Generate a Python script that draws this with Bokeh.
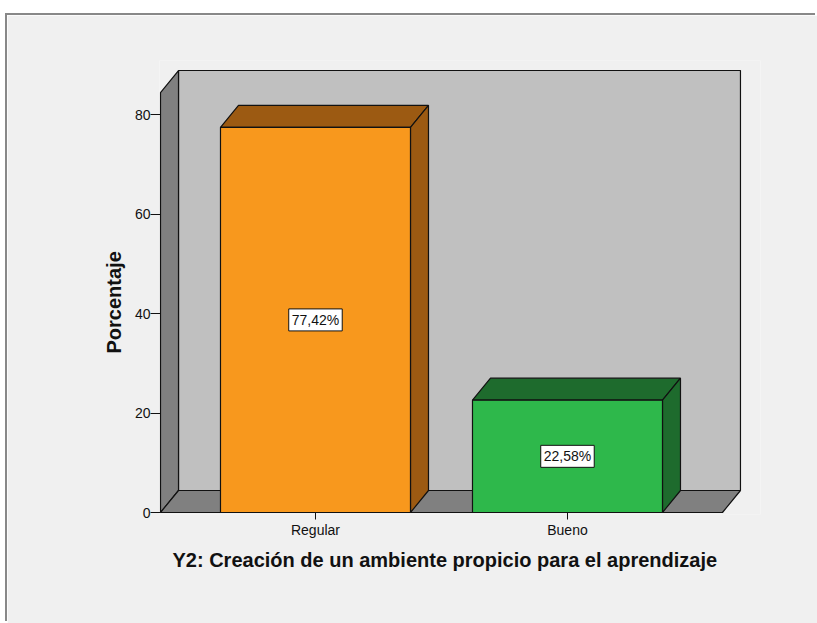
from bokeh.plotting import figure
from bokeh.models import Range1d, FixedTicker, Label, Title
from bokeh.embed import file_html
from bokeh.resources import INLINE

# ---- data ----
categories = ["Regular", "Bueno"]
percentages = [77.42, 22.58]
y_ticks = [0, 20, 40, 60, 80]
x_title = "Y2: Creación de un ambiente propicio para el aprendizaje"
y_title = "Porcentaje"

# ---- styles ----
front_colors = ["#F8981D", "#2EB84B"]
shade_colors = ["#9C5A12", "#1E6B2D"]
BG = "#F0F0F0"
WALL_BACK = "#C0C0C0"
WALL_SIDE = "#808080"
EDGE = "#111111"
FONT = "Liberation Sans"

W, H = 810, 608
FL, FR, FT, FB = 152, 753, 45, 499          # plot frame (figure px)
PX_X = 252.0                                 # px per category unit
PX_Y = 4.975                                 # px per percent
X0 = -0.119
X1 = X0 + (FR - FL) / PX_X
Y0 = -2 / PX_Y
Y1 = Y0 + (FB - FT) / PX_Y

DX = 18 / PX_X          # depth offset (x)
DY = 22 / PX_Y          # depth offset (y)
PAD = 0.115             # floor padding beyond category slots
WALL_TOP = 88.84
BAR_W = 190 / PX_X

p = figure(width=W, height=H,
           x_range=Range1d(X0, X1), y_range=Range1d(Y0, Y1),
           output_backend="svg", toolbar_location=None,
           min_border_left=FL, min_border_right=W - FR,
           min_border_top=FT, min_border_bottom=H - FB,
           background_fill_color=BG, border_fill_color=BG,
           outline_line_color=None)
p.margin = (15, 0, 0, 7)
p.styles = {"box-shadow": "-2px -2px 0px 0px #888888"}
p.grid.visible = False

n = len(categories)
L = -PAD
R = n + PAD

# back wall
p.patch([L + DX, R + DX, R + DX, L + DX], [DY, DY, WALL_TOP, WALL_TOP],
        fill_color=WALL_BACK, line_color=EDGE, line_width=1.2)
# left wall
p.patch([L, L, L + DX, L + DX], [0, WALL_TOP - DY, WALL_TOP, DY],
        fill_color=WALL_SIDE, line_color=EDGE, line_width=1.2)
# floor
p.patch([L, R, R + DX, L + DX], [0, 0, DY, DY],
        fill_color=WALL_SIDE, line_color=EDGE, line_width=1.2)

centers = [i + 0.5 for i in range(n)]
for c, v, fc, sc in zip(centers, percentages, front_colors, shade_colors):
    l, r = c - BAR_W / 2, c + BAR_W / 2
    # top face
    p.patch([l, r, r + DX, l + DX], [v, v, v + DY, v + DY],
            fill_color=sc, line_color=EDGE, line_width=1.2)
    # side face
    p.patch([r, r + DX, r + DX, r], [0, DY, v + DY, v],
            fill_color=sc, line_color=EDGE, line_width=1.2)
    # front face
    p.quad(left=l, right=r, bottom=0, top=v,
           fill_color=fc, line_color=EDGE, line_width=1.2)
    lab = Label(x=c, y=v / 2, text=f"{v:.2f}%".replace(".", ","),
                text_align="center", text_baseline="middle",
                text_font=FONT, text_font_size="14px", text_color="#111111",
                background_fill_color="white", border_line_color="#111111",
                border_line_width=1, padding=3)
    p.add_layout(lab)

# axes
xa = p.xaxis[0]
xa.ticker = FixedTicker(ticks=centers)
xa.major_label_overrides = {c: cat for c, cat in zip(centers, categories)}
xa.axis_line_color = None
xa.major_tick_in = 2
xa.major_tick_out = 5
xa.minor_tick_line_color = None
xa.major_tick_line_color = EDGE
xa.major_label_standoff = 2
xa.major_label_text_font = FONT
xa.major_label_text_font_size = "14px"
xa.major_label_text_color = "#111111"

ya = p.yaxis[0]
ya.ticker = FixedTicker(ticks=y_ticks)
ya.axis_line_color = None
ya.major_tick_in = 1
ya.major_tick_out = 9
ya.minor_tick_line_color = None
ya.major_tick_line_color = EDGE
ya.major_label_standoff = 0
ya.major_label_text_font = FONT
ya.major_label_text_font_size = "14px"
ya.major_label_text_color = "#111111"

# axis titles (aligned to the floor / left wall rather than the frame)
xt = Title(text=x_title, align="left", offset=13, standoff=13,
           text_font=FONT, text_font_size="20px", text_font_style="bold",
           text_color="#111111")
p.add_layout(xt, "below")
yt = Title(text=y_title, align="left", offset=161, standoff=13,
           text_font=FONT, text_font_size="20px", text_font_style="bold",
           text_color="#111111")
p.add_layout(yt, "left")

open("out.html", "w").write(file_html(p, INLINE))
